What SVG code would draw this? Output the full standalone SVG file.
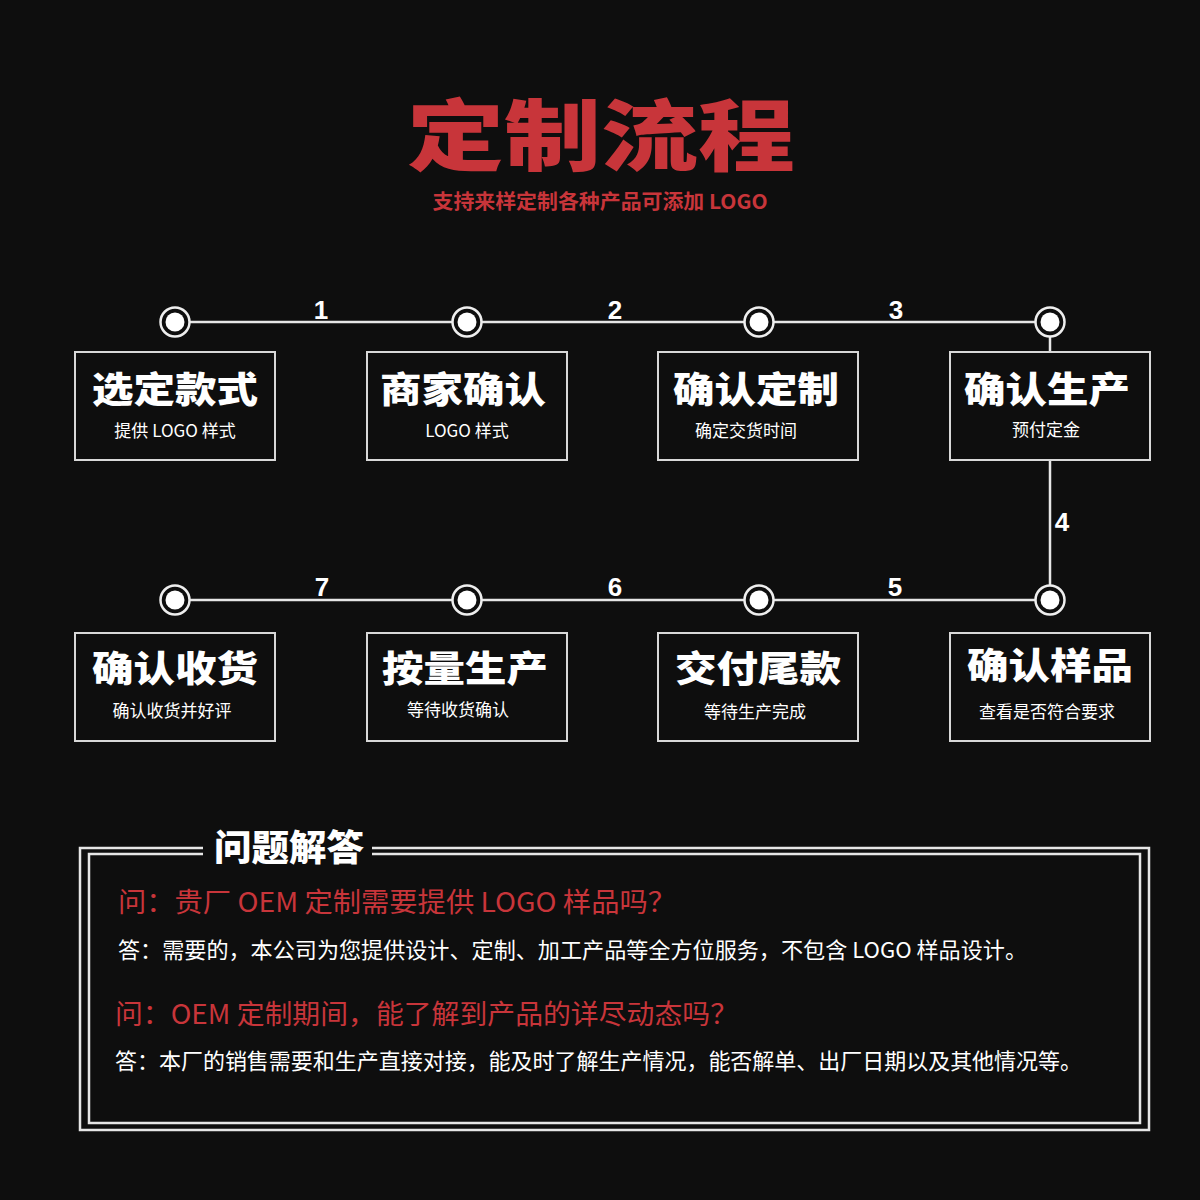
<svg xmlns="http://www.w3.org/2000/svg" width="1200" height="1200" viewBox="0 0 1200 1200">
<defs>
<style>
.bg{fill:#0e0e0e}
.ln{stroke:#e6e6e6;stroke-width:2.5;fill:none}
.box{fill:#0e0e0e;stroke:#d8d8d8;stroke-width:2}
.ring{fill:#0e0e0e;stroke:#eeeeee;stroke-width:2.5}
.dot{fill:#ffffff}
.num{font-family:"Liberation Sans",Arial,sans-serif;font-weight:bold;font-size:26px;fill:#ffffff;text-anchor:middle}
.bt{font-family:"Noto Sans CJK SC","Noto Sans",sans-serif;font-weight:900;font-size:36px;fill:#ffffff;text-anchor:middle}
.bs{font-family:"Noto Sans CJK SC","Noto Sans",sans-serif;font-size:17px;fill:#ffffff;text-anchor:middle}
.q{font-family:"Noto Sans CJK SC","Noto Sans",sans-serif;font-size:27px;fill:#c8353a}
.a{font-family:"Noto Sans CJK SC","Noto Sans",sans-serif;font-size:22px;fill:#ffffff}
</style>
<g id="marker"><circle class="ring" r="14.5"/><circle class="dot" r="9.5"/></g>
</defs>
<rect class="bg" width="1200" height="1200"/>
<text x="601" y="165" font-family="'Noto Sans CJK SC',sans-serif" font-weight="900" font-size="78" fill="#c8353a" text-anchor="middle" textLength="388" lengthAdjust="spacingAndGlyphs">定制流程</text>
<text x="600" y="209" font-family="'Noto Sans CJK SC',sans-serif" font-weight="bold" font-size="20" fill="#c8353a" text-anchor="middle" textLength="335" lengthAdjust="spacingAndGlyphs">支持来样定制各种产品可添加 LOGO</text>
<g id="connectors">
<line class="ln" x1="175" y1="322" x2="1050" y2="322"/>
<line class="ln" x1="175" y1="600" x2="1050" y2="600"/>
<line class="ln" x1="1050" y1="322" x2="1050" y2="600"/>
<text class="num" x="321" y="319">1</text>
<text class="num" x="615" y="319">2</text>
<text class="num" x="896" y="319">3</text>
<text class="num" x="1062" y="531">4</text>
<text class="num" x="895" y="596">5</text>
<text class="num" x="615" y="596">6</text>
<text class="num" x="322" y="596">7</text>
</g>
<g id="markers">
<use href="#marker" x="175" y="322"/>
<use href="#marker" x="467" y="322"/>
<use href="#marker" x="759" y="322"/>
<use href="#marker" x="1050" y="322"/>
<use href="#marker" x="175" y="600"/>
<use href="#marker" x="467" y="600"/>
<use href="#marker" x="759" y="600"/>
<use href="#marker" x="1050" y="600"/>
</g>
<g id="n1"><rect class="box" x="75" y="352" width="200" height="108"/><text class="bt" x="175" y="403" textLength="166" lengthAdjust="spacingAndGlyphs">选定款式</text><text class="bs" x="175" y="437">提供 LOGO 样式</text></g>
<g id="n2"><rect class="box" x="367" y="352" width="200" height="108"/><text class="bt" x="463" y="403" textLength="166" lengthAdjust="spacingAndGlyphs">商家确认</text><text class="bs" x="467" y="437">LOGO 样式</text></g>
<g id="n3"><rect class="box" x="658" y="352" width="200" height="108"/><text class="bt" x="756" y="403" textLength="166" lengthAdjust="spacingAndGlyphs">确认定制</text><text class="bs" x="746" y="437">确定交货时间</text></g>
<g id="n4"><rect class="box" x="950" y="352" width="200" height="108"/><text class="bt" x="1047" y="403" textLength="166" lengthAdjust="spacingAndGlyphs">确认生产</text><text class="bs" x="1046" y="436">预付定金</text></g>
<g id="n5"><rect class="box" x="950" y="633" width="200" height="108"/><text class="bt" x="1050" y="679" textLength="166" lengthAdjust="spacingAndGlyphs">确认样品</text><text class="bs" x="1047" y="718">查看是否符合要求</text></g>
<g id="n6"><rect class="box" x="658" y="633" width="200" height="108"/><text class="bt" x="758" y="682" textLength="166" lengthAdjust="spacingAndGlyphs">交付尾款</text><text class="bs" x="755" y="718">等待生产完成</text></g>
<g id="n7"><rect class="box" x="367" y="633" width="200" height="108"/><text class="bt" x="465" y="682" textLength="166" lengthAdjust="spacingAndGlyphs">按量生产</text><text class="bs" x="458" y="716">等待收货确认</text></g>
<g id="n8"><rect class="box" x="75" y="633" width="200" height="108"/><text class="bt" x="175" y="682" textLength="166" lengthAdjust="spacingAndGlyphs">确认收货</text><text class="bs" x="172" y="717">确认收货并好评</text></g>
<g id="qa">
<path class="ln" d="M203 848 H80 V1130 H1149 V848 H372"/>
<path class="ln" d="M203 854 H89 V1123 H1140 V854 H372" stroke-width="2"/>
<text x="289" y="861" font-family="'Noto Sans CJK SC',sans-serif" font-weight="900" font-size="36" fill="#ffffff" text-anchor="middle" textLength="150" lengthAdjust="spacingAndGlyphs">问题解答</text>
<text class="q" x="118" y="912" textLength="558" lengthAdjust="spacingAndGlyphs">问：贵厂 OEM 定制需要提供 LOGO 样品吗？</text>
<text class="a" x="118" y="958" textLength="909" lengthAdjust="spacingAndGlyphs">答：需要的，本公司为您提供设计、定制、加工产品等全方位服务，不包含 LOGO 样品设计。</text>
<text class="q" x="115" y="1024" textLength="623" lengthAdjust="spacingAndGlyphs">问：OEM 定制期间，能了解到产品的详尽动态吗？</text>
<text class="a" x="115" y="1069" textLength="967" lengthAdjust="spacingAndGlyphs">答：本厂的销售需要和生产直接对接，能及时了解生产情况，能否解单、出厂日期以及其他情况等。</text>
</g>
</svg>
